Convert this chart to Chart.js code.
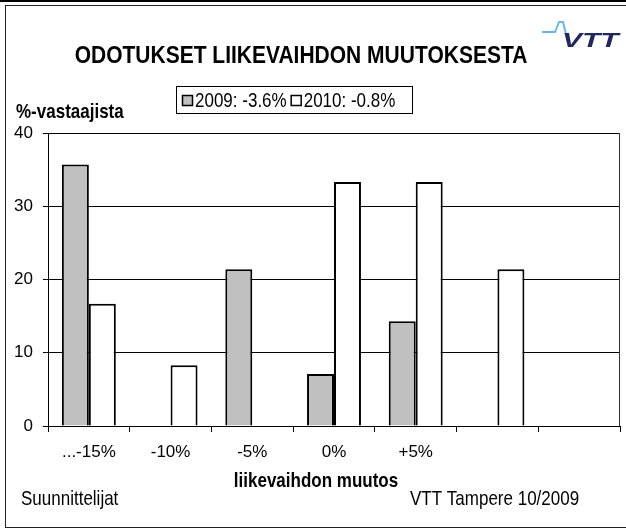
<!DOCTYPE html>
<html>
<head>
<meta charset="utf-8">
<script src="https://cdn.jsdelivr.net/npm/chart.js@4/dist/chart.umd.min.js"></script>
<style>
  html, body { margin: 0; padding: 0; background: #fff; }
  #wrap { width: 626px; height: 530px; position: relative; }
</style>
</head>
<body>
<div id="wrap"><canvas id="chart"></canvas></div>
<script>
// data
const categories = ['...-15%', '-10%', '-5%', '0%', '+5%', '', ''];
const values2009 = [35.7, 0, 21.4, 7.1, 14.3, 0, 0];
const values2010 = [16.7, 8.3, 0, 33.3, 33.3, 21.4, 0];
const seriesLabels = ['2009: -3.6%', '2010: -0.8%'];
const seriesColors = ['#c0c0c0', '#ffffff'];
const yMin = 0, yMax = 40, yStep = 10;

const titleText = 'ODOTUKSET LIIKEVAIHDON MUUTOKSESTA';
const yTitle = '%-vastaajista';
const xTitle = 'liikevaihdon muutos';
const footLeft = 'Suunnittelijat';
const footRight = 'VTT Tampere 10/2009';

const FONT = 'Liberation Sans, Arial, sans-serif';
const STRETCH = 1.15; // the original text is a bit taller than wide

// text drawn a little taller, like in the original picture
function tallText(ctx, text, x, y, sx, sy) {
    ctx.save();
    ctx.translate(x, y);
    ctx.scale(sx, sy);
    ctx.fillText(text, 0, 0);
    ctx.restore();
}

// draws frame, titles, legend box, logo and footers
const decorations = {
    id: 'decorations',
    afterDraw(chart) {
        const ctx = chart.ctx;
        const ys = chart.scales.y, xs = chart.scales.x;
        const l = Math.round(xs.left), r = Math.round(xs.right);
        const t = Math.round(ys.getPixelForValue(yMax));
        const b = Math.round(ys.getPixelForValue(yMin));
        ctx.save();

        // outer frame
        ctx.fillStyle = '#000';
        ctx.fillRect(0, 0, 626, 2);
        ctx.fillStyle = '#222';
        ctx.fillRect(5, 5, 626, 1);
        ctx.fillRect(5, 5, 1, 523);
        ctx.fillRect(5, 527, 626, 1);

        // top and right edge of plot box
        ctx.fillStyle = '#000';
        ctx.fillRect(l, t, r - l, 1);
        ctx.fillStyle = '#333';
        ctx.fillRect(r - 1, t, 1, b - t);

        ctx.fillStyle = '#000';
        ctx.textBaseline = 'alphabetic';

        // title
        ctx.font = 'bold 21px ' + FONT;
        ctx.textAlign = 'center';
        tallText(ctx, titleText, 301, 63, 1, STRETCH);

        // axis titles
        ctx.font = 'bold 17px ' + FONT;
        ctx.textAlign = 'left';
        tallText(ctx, yTitle, 16, 118, 1, STRETCH);
        ctx.textAlign = 'center';
        tallText(ctx, xTitle, 316, 487, 1, STRETCH);

        // footers
        ctx.font = '17px ' + FONT;
        ctx.textAlign = 'left';
        tallText(ctx, footLeft, 21, 505, 1, STRETCH);
        tallText(ctx, footRight, 410, 505, 1, STRETCH);

        // legend box
        ctx.strokeStyle = '#000';
        ctx.lineWidth = 1;
        ctx.strokeRect(176.5, 86.5, 236, 27);
        ctx.font = '17px ' + FONT;
        let x = 182;
        chart.data.datasets.forEach((ds) => {
            ctx.fillStyle = ds.backgroundColor;
            ctx.fillRect(x, 95, 10, 10);
            ctx.strokeStyle = '#000';
            ctx.lineWidth = 1.5;
            ctx.strokeRect(x + 0.5, 95.5, 10, 10);
            ctx.fillStyle = '#000';
            ctx.textAlign = 'left';
            tallText(ctx, ds.label, x + 13, 107, 1, STRETCH);
            x += 13 + ctx.measureText(ds.label).width + 4;
        });

        // VTT logo
        ctx.strokeStyle = '#6fb6e6';
        ctx.lineWidth = 2;
        ctx.beginPath();
        ctx.moveTo(542, 32);
        ctx.lineTo(555, 32);
        ctx.lineTo(559, 22);
        ctx.lineTo(563, 22);
        ctx.lineTo(566, 34);
        ctx.stroke();
        ctx.fillStyle = '#22285e';
        ctx.font = 'italic bold 20px ' + FONT;
        ctx.textAlign = 'left';
        tallText(ctx, 'VTT', 562, 47, 1.5, 1);

        ctx.restore();
    }
};

const tickFont = { family: FONT, size: 17 };

new Chart(document.getElementById('chart'), {
    type: 'bar',
    data: {
        labels: categories,
        datasets: [
            {
                label: seriesLabels[0],
                data: values2009,
                backgroundColor: seriesColors[0],
                borderColor: '#000',
                borderWidth: 2,
                categoryPercentage: 0.66,
                barPercentage: 1.0
            },
            {
                label: seriesLabels[1],
                data: values2010,
                backgroundColor: seriesColors[1],
                borderColor: '#000',
                borderWidth: 2,
                categoryPercentage: 0.66,
                barPercentage: 1.0
            }
        ]
    },
    options: {
        responsive: true,
        maintainAspectRatio: false,
        animation: false,
        layout: { padding: { left: 5, top: 133, right: 6, bottom: 0 } },
        plugins: {
            legend: { display: false },
            title: { display: false },
            tooltip: { enabled: false }
        },
        scales: {
            x: {
                grid: { drawOnChartArea: false, color: '#000', tickLength: 6, offset: true },
                border: { color: '#000', width: 1 },
                ticks: { font: tickFont, color: '#000', padding: 10, maxRotation: 0, autoSkip: false },
                afterFit(scale) { scale.height = 104; }
            },
            y: {
                min: yMin,
                max: yMax,
                ticks: { stepSize: yStep, font: tickFont, color: '#000', padding: 10 },
                grid: { color: '#000', tickLength: 5 },
                border: { color: '#000', width: 1 },
                afterFit(scale) { scale.width = 43; }
            }
        }
    },
    plugins: [decorations]
});
</script>
</body>
</html>
